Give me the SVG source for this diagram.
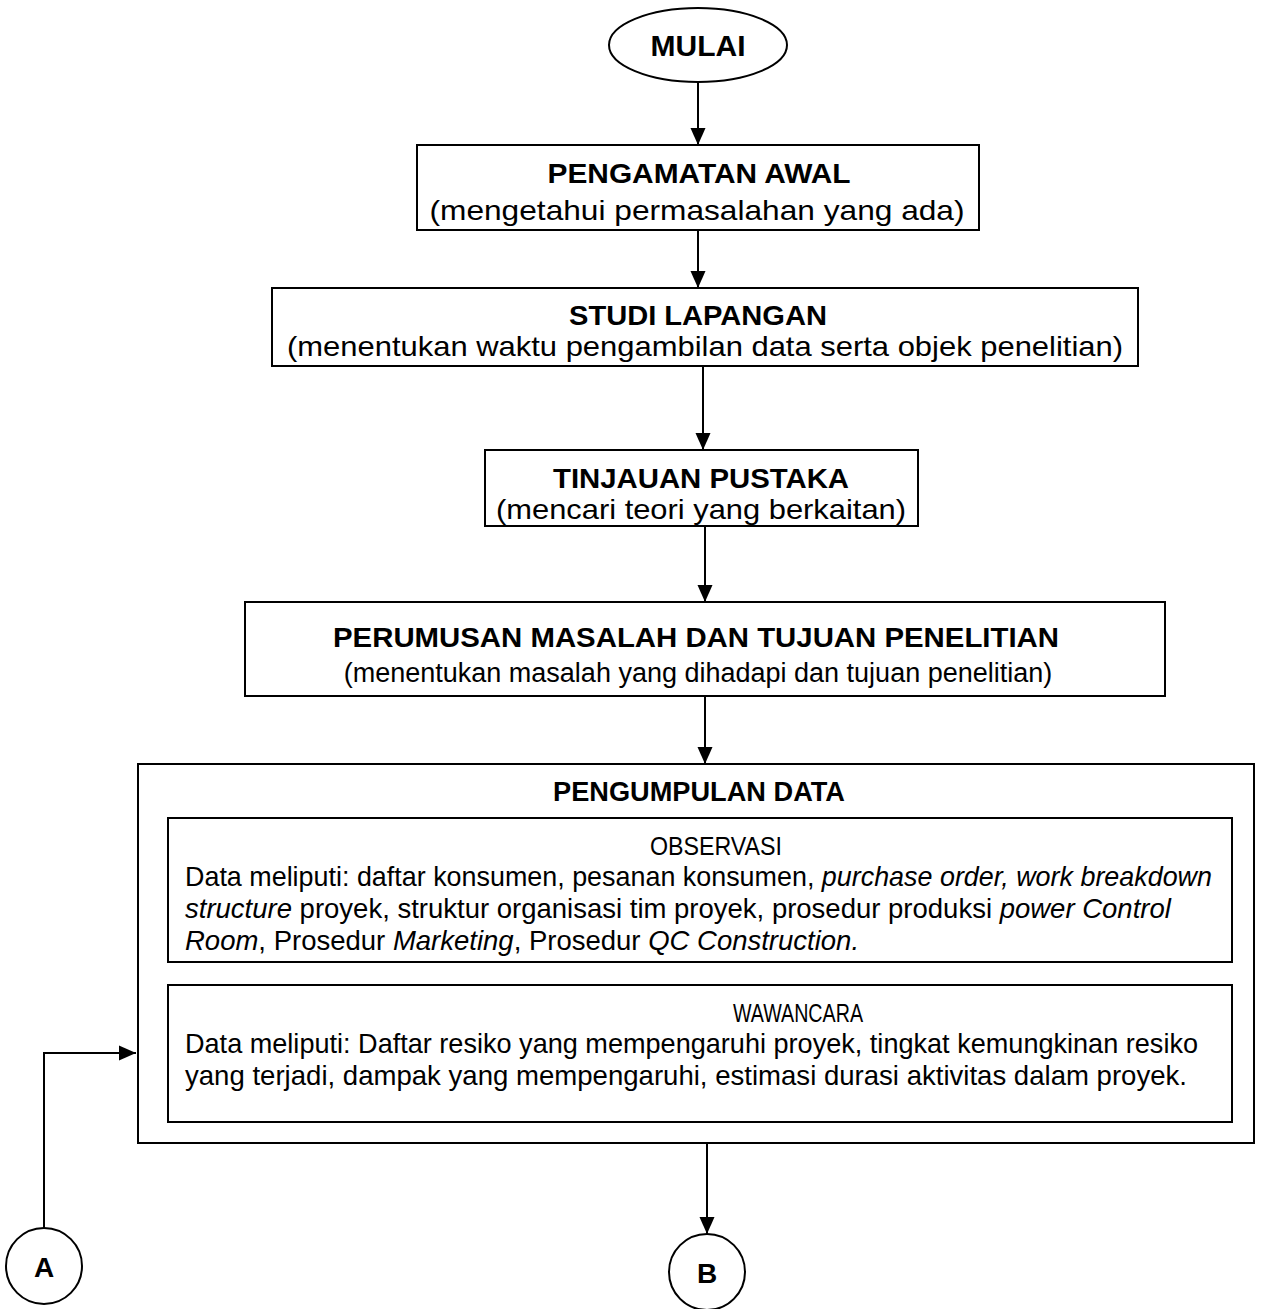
<svg xmlns="http://www.w3.org/2000/svg" width="1262" height="1309" viewBox="0 0 1262 1309">
<style>
.box{fill:#fff;stroke:#000;stroke-width:2}
.ln{fill:none;stroke:#000;stroke-width:2}
.t{font-family:"Liberation Sans",Arial,sans-serif;font-weight:bold;font-size:28px;text-anchor:middle;fill:#000}
.s{font-family:"Liberation Sans",Arial,sans-serif;font-size:28px;text-anchor:middle;fill:#000}
.h{font-family:"Liberation Sans",Arial,sans-serif;font-size:26px;text-anchor:middle;fill:#000}
.b{font-family:"Liberation Sans",Arial,sans-serif;font-size:27.5px;fill:#000}
.i{font-style:italic}
</style>
<defs>
<marker id="ah" markerWidth="18" markerHeight="18" refX="17" refY="8" orient="auto" markerUnits="userSpaceOnUse">
<path d="M0,0.5 L17,8 L0,15.5 Z" fill="#000"/>
</marker>
</defs>
<g id="connectors">
<line class="ln" x1="698" y1="83" x2="698" y2="145" marker-end="url(#ah)"/>
<line class="ln" x1="698" y1="230" x2="698" y2="288" marker-end="url(#ah)"/>
<line class="ln" x1="703" y1="366" x2="703" y2="450" marker-end="url(#ah)"/>
<line class="ln" x1="705" y1="526" x2="705" y2="602" marker-end="url(#ah)"/>
<line class="ln" x1="705" y1="696" x2="705" y2="764" marker-end="url(#ah)"/>
<polyline class="ln" points="44,1228 44,1053 136,1053" marker-end="url(#ah)"/>
<line class="ln" x1="707" y1="1143" x2="707" y2="1234" marker-end="url(#ah)"/>
</g>
<g id="mulai">
<ellipse class="box" cx="698" cy="45" rx="89" ry="37"/>
<text class="t" x="698" y="56" style="font-size:30px">MULAI</text>
</g>
<g id="pengamatan">
<rect class="box" x="417" y="145" width="562" height="85"/>
<text class="t" x="699" y="183" textLength="303" lengthAdjust="spacingAndGlyphs">PENGAMATAN AWAL</text>
<text class="s" x="697" y="220" textLength="535" lengthAdjust="spacingAndGlyphs">(mengetahui permasalahan yang ada)</text>
</g>
<g id="studi">
<rect class="box" x="272" y="288" width="866" height="78"/>
<text class="t" x="698" y="325" textLength="258" lengthAdjust="spacingAndGlyphs">STUDI LAPANGAN</text>
<text class="s" x="705" y="356" textLength="836" lengthAdjust="spacingAndGlyphs">(menentukan waktu pengambilan data serta objek penelitian)</text>
</g>
<g id="tinjauan">
<rect class="box" x="485" y="450" width="433" height="76"/>
<text class="t" x="701" y="488" textLength="296" lengthAdjust="spacingAndGlyphs">TINJAUAN PUSTAKA</text>
<text class="s" x="701" y="519" textLength="410" lengthAdjust="spacingAndGlyphs">(mencari teori yang berkaitan)</text>
</g>
<g id="perumusan">
<rect class="box" x="245" y="602" width="920" height="94"/>
<text class="t" x="696" y="647" textLength="726" lengthAdjust="spacingAndGlyphs">PERUMUSAN MASALAH DAN TUJUAN PENELITIAN</text>
<text class="s" x="698" y="682" style="font-size:27px">(menentukan masalah yang dihadapi dan tujuan penelitian)</text>
</g>
<g id="pengumpulan">
<rect class="box" x="138" y="764" width="1116" height="379"/>
<text class="t" x="699" y="801" style="font-size:27px" textLength="292" lengthAdjust="spacingAndGlyphs">PENGUMPULAN DATA</text>
</g>
<g id="observasi">
<rect class="box" x="168" y="818" width="1064" height="144"/>
<text class="h" x="716" y="855" textLength="132" lengthAdjust="spacingAndGlyphs">OBSERVASI</text>
<text class="b" x="185" y="886" textLength="1027" lengthAdjust="spacingAndGlyphs">Data meliputi: daftar konsumen, pesanan konsumen, <tspan class="i">purchase order, work breakdown</tspan></text>
<text class="b" x="185" y="918"><tspan class="i">structure</tspan> proyek, struktur organisasi tim proyek, prosedur produksi <tspan class="i">power Control</tspan></text>
<text class="b" x="185" y="950"><tspan class="i">Room</tspan>, Prosedur <tspan class="i">Marketing</tspan>, Prosedur <tspan class="i">QC Construction.</tspan></text>
</g>
<g id="wawancara">
<rect class="box" x="168" y="985" width="1064" height="137"/>
<text class="h" x="798" y="1022" textLength="130" lengthAdjust="spacingAndGlyphs">WAWANCARA</text>
<text class="b" x="185" y="1053" textLength="1013" lengthAdjust="spacingAndGlyphs">Data meliputi: Daftar resiko yang mempengaruhi proyek, tingkat kemungkinan resiko</text>
<text class="b" x="185" y="1085" textLength="1002" lengthAdjust="spacingAndGlyphs">yang terjadi, dampak yang mempengaruhi, estimasi durasi aktivitas dalam proyek.</text>
</g>
<g id="a">
<circle class="box" cx="44" cy="1266" r="38"/>
<text class="t" x="44" y="1277">A</text>
</g>
<g id="b">
<circle class="box" cx="707" cy="1272" r="38"/>
<text class="t" x="707" y="1283">B</text>
</g>
</svg>
